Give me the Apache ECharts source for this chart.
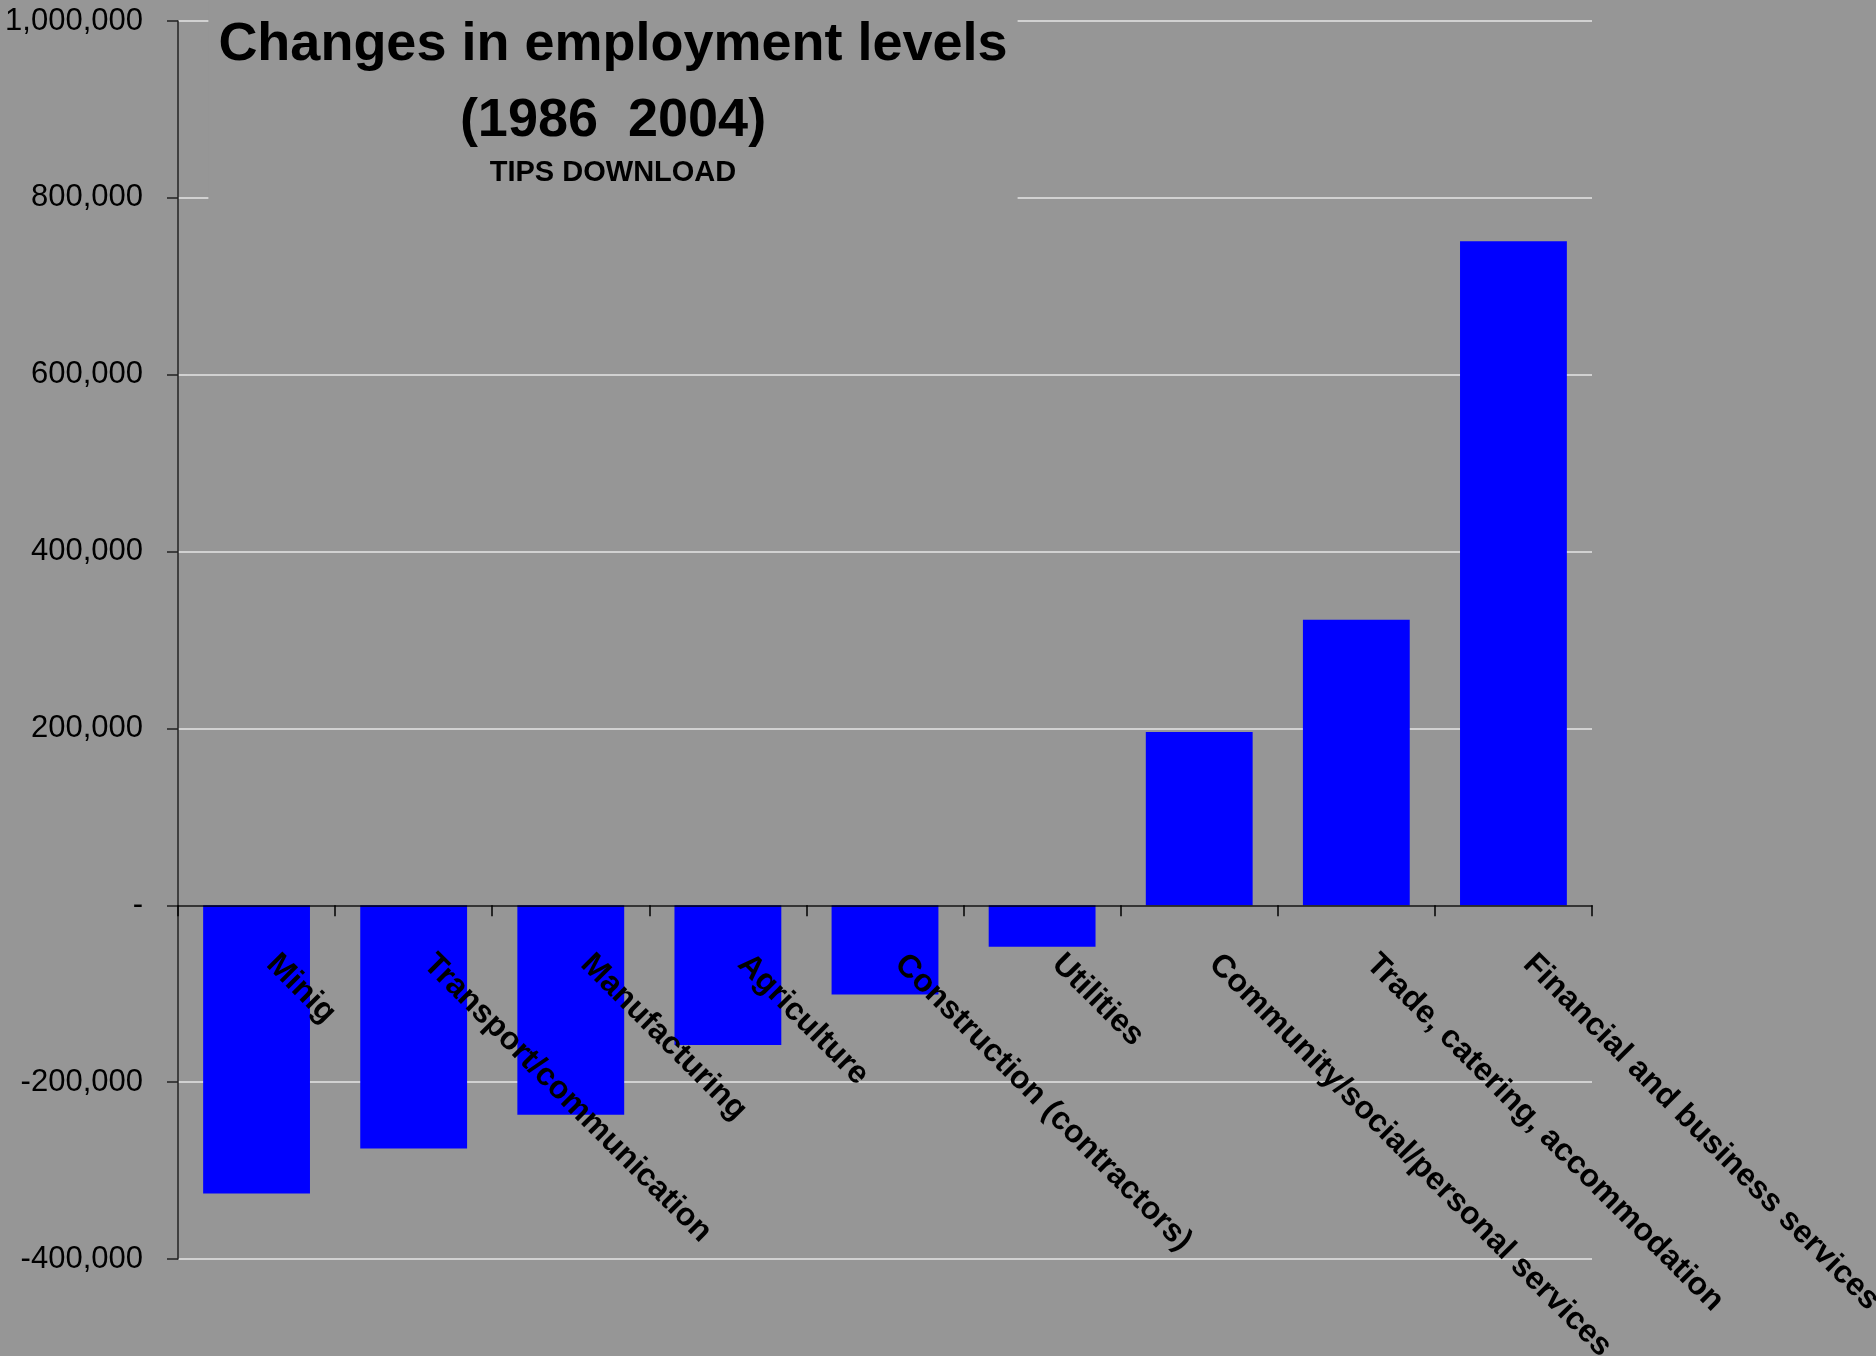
<!DOCTYPE html>
<html><head><meta charset="utf-8">
<script src="https://cdn.jsdelivr.net/npm/echarts@6/dist/echarts.min.js"></script>
<style>html,body{margin:0;padding:0;background:#969696;}#c{width:1876px;height:1356px;}</style>
</head><body><div id="c"></div>
<script>
const categories = ["Minig","Transport/communication","Manufacturing","Agriculture","Construction (contractors)","Utilities","Community/social/personal services","Trade, catering, accommodation","Financial and business services"];
const changes = [-326000,-275000,-237000,-158000,-101000,-47000,196000,323000,751000];
const yMin = -400000, yMax = 1000000, yStep = 200000;

const chart = echarts.init(document.getElementById('c'));
chart.setOption({
  backgroundColor: '#969696',
  animation: false,
  title: {
    text: 'Changes in employment levels\n(1986  2004)',
    subtext: 'TIPS DOWNLOAD',
    left: 603, top: 1,
    textAlign: 'center',
    backgroundColor: '#969696',
    padding: [6, 10, 16, 10],
    itemGap: 0,
    z: 10,
    textStyle: { fontFamily: 'Liberation Sans, Arial, sans-serif', fontWeight: 'bold', fontSize: 54, lineHeight: 76, color: '#000' },
    subtextStyle: { fontFamily: 'Liberation Sans, Arial, sans-serif', fontWeight: 'bold', fontSize: 29, lineHeight: 28, color: '#000' }
  },
  grid: { left: 178, right: 284, top: 21, bottom: 97, containLabel: false, outerBoundsMode: 'none' },
  xAxis: {
    type: 'category',
    data: categories,
    z: 5,
    axisLine: { onZero: false, lineStyle: { color: '#000', width: 1.5 } },
    axisTick: { show: true, length: 11, lineStyle: { color: '#000', width: 1.5 } },
    axisLabel: { rotate: -45, margin: 39, padding: [0, 0, 0, 21], fontFamily: 'Liberation Sans, Arial, sans-serif', fontWeight: 'bold', fontSize: 32, color: '#000', interval: 0 },
    splitLine: { show: false }
  },
  yAxis: {
    type: 'value',
    min: yMin, max: yMax, interval: yStep,
    axisLine: { show: true, lineStyle: { color: '#222', width: 1.5 } },
    axisTick: { show: true, length: 11, lineStyle: { color: '#222', width: 1.5 } },
    axisLabel: {
      margin: 35, fontFamily: 'Liberation Sans, Arial, sans-serif', fontSize: 31, color: '#000',
      formatter: v => v === 0 ? '-' : v.toLocaleString('en-US')
    },
    splitLine: { show: true, lineStyle: { color: '#e4e4e4', width: 1.5 } }
  },
  series: [{
    type: 'bar',
    data: changes,
    barCategoryGap: '32%',
    itemStyle: { color: '#0000ff' }
  }]
});
// move the category axis (line, ticks, labels) up to the zero line using the library's scale
const zeroY = chart.convertToPixel({ yAxisIndex: 0 }, 0);
const bottomY = chart.convertToPixel({ yAxisIndex: 0 }, yMin);
chart.setOption({ xAxis: { offset: zeroY - bottomY } });
</script></body></html>
